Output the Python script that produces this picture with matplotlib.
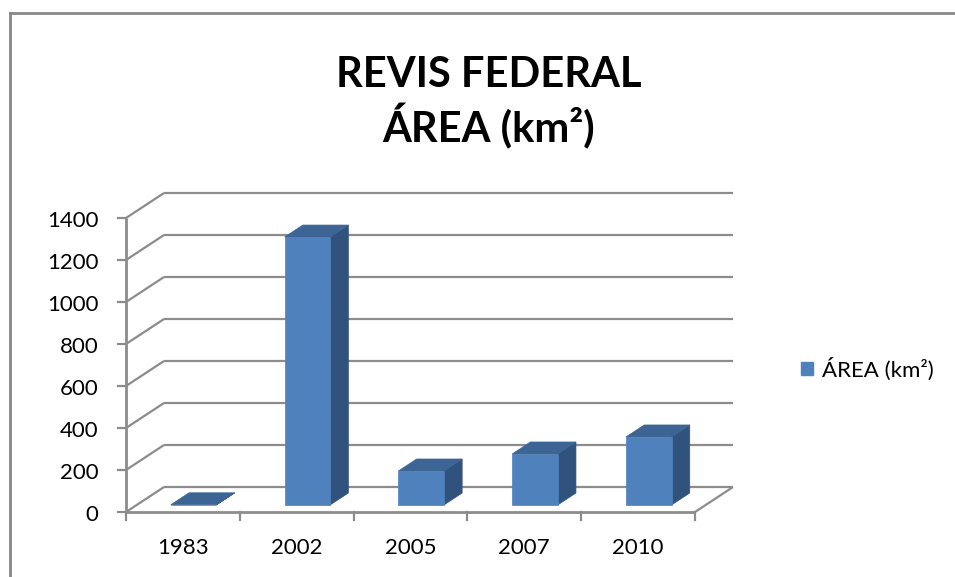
import matplotlib.pyplot as plt
from matplotlib.patches import Polygon, Patch

# data
anos = ["1983", "2002", "2005", "2007", "2010"]
area_km2 = [1, 1276, 162, 243, 324]
y_ticks = [0, 200, 400, 600, 800, 1000, 1200, 1400]

# oblique projection (depth offset in data units)
DX = 0.334
DY = 119.0
GRID = "#8c8c8c"
FRONT = "#4f81bd"
SIDE = "#31527d"
TOP = "#3c6494"

plt.rcParams['font.family'] = ['Lato', 'DejaVu Sans']

fig = plt.figure(figsize=(9.55, 5.77), dpi=100)
ax = fig.add_axes([126 / 955, 65 / 577, 569 / 955, 294 / 577])
ax.set_xlim(0, len(anos))
ax.set_ylim(0, 1400)
ax.axis("off")


def proj(x, y, d):
    return (x + d * DX, y + d * DY)


def line(p, q, **kw):
    ax.plot([p[0], q[0]], [p[1], q[1]], clip_on=False, solid_capstyle="butt", **kw)


n = len(anos)
# back wall gridlines and side wall diagonals
for v in y_ticks:
    line(proj(0, v, 1), proj(n, v, 1), color=GRID, lw=1.6)
    line(proj(0, v, 0), proj(0, v, 1), color=GRID, lw=1.6)
    # tick mark at front axis
    ax.plot([-0.07, 0], [v, v], color=GRID, lw=1.6, clip_on=False)

# floor front and right edge
line(proj(0, 0, 0), proj(n, 0, 0), color=GRID, lw=2)
line(proj(n, 0, 0), proj(n, 0, 1), color=GRID, lw=1.6)
# front vertical axis
line((0, 0), (0, 1400), color=GRID, lw=2)
# category ticks
for i in range(n + 1):
    ax.plot([i, i], [0, -38], color=GRID, lw=1.6, clip_on=False)

# bars
d0, d1 = 0.28, 0.76
a, w = 0.30, 0.40
for i, v in enumerate(area_km2):
    x0, x1 = i + a, i + a + w
    front = [proj(x0, 0, d0), proj(x1, 0, d0), proj(x1, v, d0), proj(x0, v, d0)]
    side = [proj(x1, 0, d0), proj(x1, 0, d1), proj(x1, v, d1), proj(x1, v, d0)]
    top = [proj(x0, v, d0), proj(x1, v, d0), proj(x1, v, d1), proj(x0, v, d1)]
    for pts, c in ((side, SIDE), (front, FRONT), (top, TOP)):
        ax.add_patch(Polygon(pts, closed=True, facecolor=c, edgecolor=c, lw=0.5,
                             clip_on=False, zorder=3))

# tick labels
for v in y_ticks:
    ax.text(-0.24, v - 15, str(v), ha="right", va="center", fontsize=16, color="black")
for i, lab in enumerate(anos):
    ax.text(i + 0.5, -170, lab, ha="center", va="center", fontsize=16, color="black")

# title
fig.text(489 / 955, 1 - 87 / 577, "REVIS FEDERAL", ha="center", va="baseline",
         fontsize=30, fontweight="bold")
fig.text(489 / 955, 1 - 142 / 577, "ÁREA (km²)", ha="center", va="baseline",
         fontsize=30, fontweight="bold")

# legend
fig.legend(handles=[Patch(facecolor=FRONT, edgecolor=FRONT)], labels=["ÁREA (km²)"],
           loc="center left", bbox_to_anchor=(781 / 955, 1 - 369 / 577), frameon=False,
           fontsize=16, handlelength=0.55, handleheight=0.55, handletextpad=0.4)

# chart border (left and top)
fig.add_artist(plt.Line2D([9.5 / 955, 9.5 / 955], [0, 1 - 12.5 / 577], color="#888888", lw=2))
fig.add_artist(plt.Line2D([9.5 / 955, 1], [1 - 12.5 / 577, 1 - 12.5 / 577], color="#888888", lw=2))

fig.savefig("out.png", dpi=100)
